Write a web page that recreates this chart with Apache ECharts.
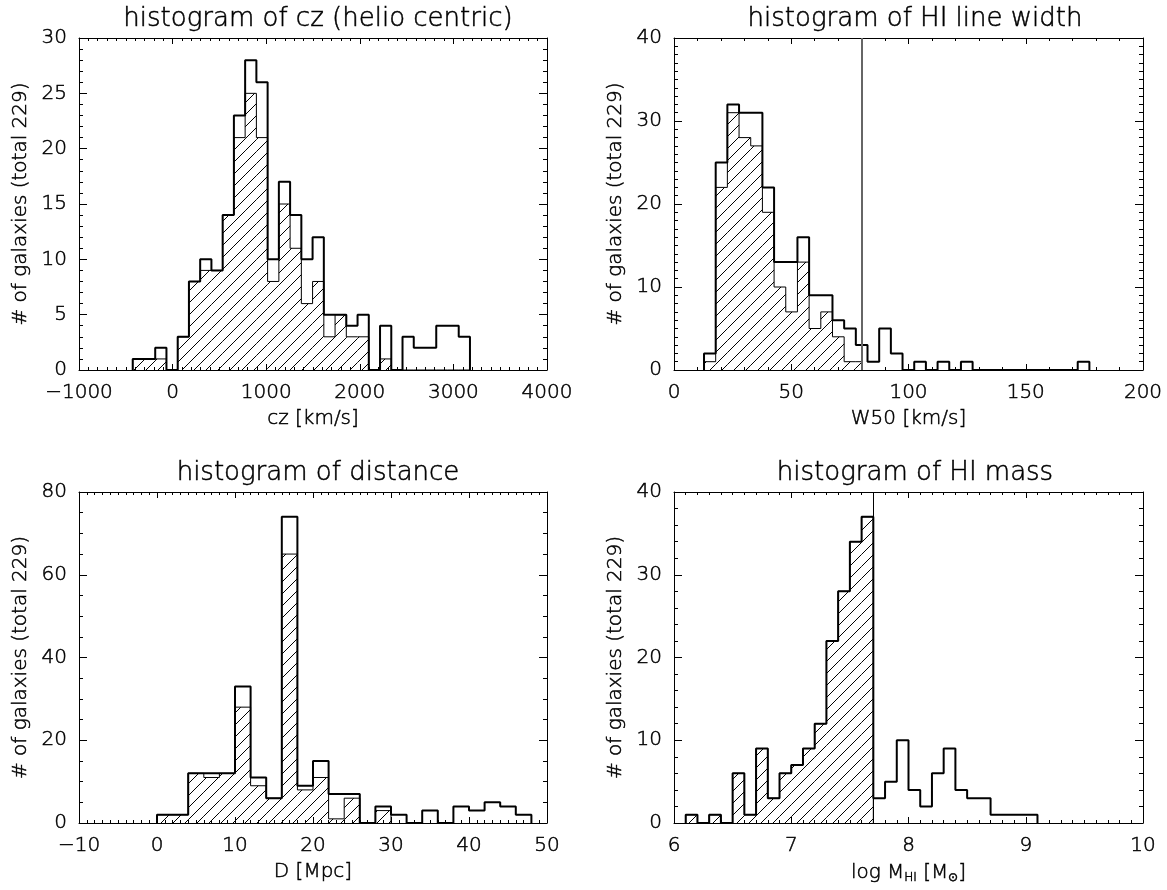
<!DOCTYPE html>
<html><head><meta charset="utf-8">
<script src="https://cdn.jsdelivr.net/npm/echarts/dist/echarts.min.js"></script>
<style>html,body{margin:0;padding:0;background:#fff}#c{width:1167px;height:890px}</style>
</head><body><div id="c"></div>
<script>
// ---------- data ----------
const yAxisTitle = '# of galaxies (total 229)';

// panel 1: cz histogram
const czTitle = 'histogram of cz (helio centric)';
const czXName = 'cz [km/s]';
const czBinStart = -426;
const czBinWidth = 120.1;
const czTotal   = [1,1,2,0,3,8,10,9,14,23,28,26,10,17,14,10,12,5,5,4,5,0,4,0,3,2,2,4,4,3];
const czHatched = [1,1,1,0,3,8,9,9,14,21,25,21,8,15,11,6,8,3,5,3,3,0,1,0,0,0,0,0,0,0];
const czXTicks = [-1000, 4000, 1000];
const czYTicks = [0, 30, 5];

// panel 2: W50 histogram
const w50Title = 'histogram of HI line width';
const w50XName = 'W50 [km/s]';
const w50BinStart = 12.8;
const w50BinWidth = 4.98;
const w50Total   = [2,25,32,31,31,22,13,13,16,9,9,6,5,3,1,5,2,0,1,0,1,0,1,0,0,0,0,0,0,0,0,0,1];
const w50Hatched = [1,22,31,28,27,19,10,7,13,5,7,4,1,1];
const w50Cut = 80;
const w50XTicks = [0, 200, 50];
const w50YTicks = [0, 40, 10];

// panel 3: distance histogram
const dTitle = 'histogram of distance';
const dXName = 'D [Mpc]';
const dBinStart = 0;
const dBinWidth = 2;
const dTotal   = [2,2,12,12,12,33,11,6,74,9,15,7,7,0,4,2,0,3,0,4,3,5,4,2];
const dHatched = [2,2,12,11,12,28,9,6,65,8,11,1,6,0,3];
const dXTicks = [-10, 50, 10];
const dYTicks = [0, 80, 20];

// panel 4: HI mass histogram
const mTitle = 'histogram of HI mass';
const mBinStart = 6.1;
const mBinWidth = 0.1;
const mTotal   = [1,0,1,0,6,1,9,3,6,7,9,12,22,28,34,37,3,5,10,4,2,6,9,4,3,3,1,1,1,1];
const mHatched = [1,0,1,0,6,1,9,3,6,7,9,12,22,28,34,37];
const mCut = 7.7;
const mXTicks = [6, 10, 1];
const mYTicks = [0, 40, 10];

// ---------- chart construction ----------
const FONT = 'DejaVu Sans';
const FW = 200;
const TB = { textBorderColor: '#000', textBorderWidth: 0.5 };

function makeBins(start, width, counts, cut) {
  const out = [];
  counts.forEach((c, i) => {
    let x0 = start + i * width, x1 = x0 + width;
    if (cut != null) { if (x0 >= cut) return; x1 = Math.min(x1, cut); }
    out.push([x0, x1, c]);
  });
  return out;
}
function stepPoints(bins) {
  const pts = [[bins[0][0], 0]];
  bins.forEach(b => { pts.push([b[0], b[2]]); pts.push([b[1], b[2]]); });
  pts.push([bins[bins.length - 1][1], 0]);
  return pts;
}

// hatch pattern tile
const tile = document.createElement('canvas');
tile.width = 12; tile.height = 12;
(function () {
  const g = tile.getContext('2d');
  g.strokeStyle = '#000'; g.lineWidth = 1;
  g.beginPath();
  g.moveTo(0, 12); g.lineTo(12, 0);
  g.moveTo(-2, 2); g.lineTo(2, -2);
  g.moveTo(10, 14); g.lineTo(14, 10);
  g.stroke();
})();
const hatch = { image: tile, repeat: 'repeat' };

const panels = [
  { title: czTitle, xName: czXName, start: czBinStart, width: czBinWidth, total: czTotal, hatched: czHatched, cut: null,
    xt: czXTicks, yt: czYTicks, xMinor: 10, yMinor: 5,
    grid: { left: 79, top: 38, width: 468, height: 332 }, titlePos: [313, 1] },
  { title: w50Title, xName: w50XName, start: w50BinStart, width: w50BinWidth, total: w50Total, hatched: w50Hatched, cut: w50Cut,
    xt: w50XTicks, yt: w50YTicks, xMinor: 5, yMinor: 10, cutStyle: { color: '#666', width: 2 },
    grid: { left: 674, top: 38, width: 469, height: 332 }, titlePos: [910, 1] },
  { title: dTitle, xName: dXName, start: dBinStart, width: dBinWidth, total: dTotal, hatched: dHatched, cut: null,
    xt: dXTicks, yt: dYTicks, xMinor: 10, yMinor: 4,
    grid: { left: 79, top: 492, width: 468, height: 331 }, titlePos: [313, 455] },
  { title: mTitle, xName: '{n|log M}{s|HI}{n| [M}{s|⊙}{n|]}', start: mBinStart, width: mBinWidth, total: mTotal, hatched: mHatched, cut: mCut,
    xt: mXTicks, yt: mYTicks, xMinor: 10, yMinor: 5, cutStyle: { color: '#000', width: 1 },
    grid: { left: 674, top: 492, width: 469, height: 331 }, titlePos: [910, 455] }
];

const grids = [], xAxes = [], yAxes = [], series = [], titles = [];
const fmt = v => String(v).replace('-', '\u2212');

panels.forEach((p, i) => {
  grids.push(p.grid);
  titles.push({ text: p.title, left: p.titlePos[0], top: p.titlePos[1], textAlign: 'center',
    textStyle: Object.assign({ fontFamily: FONT, fontSize: 26, fontWeight: FW, color: '#000' }, TB) });
  const common = (minor, len, mlen) => ({
    axisLine: { show: true, onZero: false, lineStyle: { color: '#000', width: 1 } },
    axisTick: { show: true, inside: true, length: len, lineStyle: { color: '#000', width: 1 } },
    minorTick: { show: true, splitNumber: minor, length: mlen, lineStyle: { color: '#000', width: 1 } },
    splitLine: { show: false }, minorSplitLine: { show: false }
  });
  xAxes.push(Object.assign({ gridIndex: i, type: 'value', position: 'bottom', min: p.xt[0], max: p.xt[1], interval: p.xt[2],
    axisLabel: Object.assign({ margin: 13, fontFamily: FONT, fontSize: 20, fontWeight: FW, color: '#000', formatter: fmt }, TB),
    name: p.xName, nameLocation: 'middle', nameGap: 39,
    nameTextStyle: Object.assign({ fontFamily: FONT, fontSize: 20, fontWeight: FW, color: '#000',
      rich: { n: Object.assign({ fontFamily: FONT, fontSize: 20, fontWeight: FW, color: '#000' }, TB),
              s: Object.assign({ fontFamily: FONT, fontSize: 12, fontWeight: FW, color: '#000', padding: [10, 0, 0, 0] }, TB) } }, TB)
  }, common(p.xMinor, 6, 3)));
  xAxes.push(Object.assign({ gridIndex: i, type: 'value', position: 'top', min: p.xt[0], max: p.xt[1], interval: p.xt[2],
    axisLabel: { show: false } }, common(p.xMinor, 6, 3)));
  yAxes.push(Object.assign({ gridIndex: i, type: 'value', position: 'left', min: p.yt[0], max: p.yt[1], interval: p.yt[2],
    axisLabel: Object.assign({ margin: 12, fontFamily: FONT, fontSize: 20, fontWeight: FW, color: '#000' }, TB),
    name: yAxisTitle, nameLocation: 'middle', nameGap: 48,
    nameTextStyle: Object.assign({ fontFamily: FONT, fontSize: 20, fontWeight: FW, color: '#000' }, TB)
  }, common(p.yMinor, 8, 4)));
  yAxes.push(Object.assign({ gridIndex: i, type: 'value', position: 'right', min: p.yt[0], max: p.yt[1], interval: p.yt[2],
    axisLabel: { show: false } }, common(p.yMinor, 8, 4)));

  const hb = makeBins(p.start, p.width, p.hatched, p.cut);
  const tb = makeBins(p.start, p.width, p.total, null);
  series.push({
    type: 'custom', xAxisIndex: 2 * i, yAxisIndex: 2 * i, data: hb, encode: { x: [0, 1], y: 2 }, z: 1,
    renderItem: function (params, api) {
      const x0 = api.value(0), x1 = api.value(1), h = api.value(2);
      if (!(h > 0) || x1 <= x0) return;
      const a = api.coord([x0, 0]), b = api.coord([x1, h]);
      return { type: 'rect', shape: { x: a[0], y: b[1], width: b[0] - a[0], height: a[1] - b[1] },
        style: { fill: hatch, stroke: null } };
    }
  });
  series.push({ type: 'line', xAxisIndex: 2 * i, yAxisIndex: 2 * i, data: stepPoints(hb), symbol: 'none', z: 2,
    lineStyle: { color: '#000', width: 1 } });
  const tot = { type: 'line', xAxisIndex: 2 * i, yAxisIndex: 2 * i, data: stepPoints(tb), symbol: 'none', z: 3,
    lineStyle: { color: '#000', width: 2 } };
  if (p.cut != null) {
    tot.markLine = { silent: true, symbol: 'none', label: { show: false }, animation: false,
      lineStyle: Object.assign({ type: 'solid' }, p.cutStyle), data: [{ xAxis: p.cut }] };
  }
  series.push(tot);
});

const chart = echarts.init(document.getElementById('c'), null, { renderer: 'canvas' });
chart.setOption({
  animation: false, backgroundColor: '#fff',
  title: titles, grid: grids, xAxis: xAxes, yAxis: yAxes, series: series
});
</script></body></html>
